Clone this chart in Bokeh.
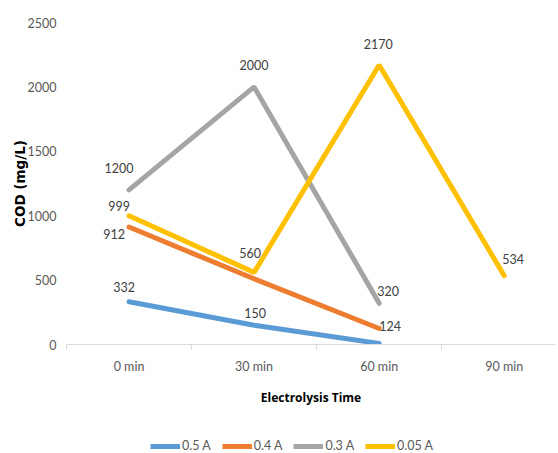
from bokeh.plotting import figure
from bokeh.layouts import column
from bokeh.models import (ColumnDataSource, LabelSet, Legend, LegendItem,
                          FixedTicker, Range1d)
from bokeh.core.properties import value
from bokeh.embed import file_html
from bokeh.resources import INLINE

# ---- data ----
categories = ["0 min", "30 min", "60 min", "90 min"]
series_names = ["0.5 A", "0.4 A", "0.3 A", "0.05 A"]
a05 = [332, 150, 8]
a04 = [912, 510, 124]
a03 = [1200, 2000, 320]
a005 = [999, 560, 2170, 534]
y_ticks = [0, 500, 1000, 1500, 2000, 2500]

# labels shown in chart (series index, point index)
shown = [(0, 0), (0, 1), (1, 0), (1, 2), (2, 0), (2, 1), (2, 2),
         (3, 0), (3, 1), (3, 2), (3, 3)]
# label offsets (style, screen px)
offsets = {(0, 0): (-5, 15), (0, 1): (1, 12), (1, 0): (-15, -7), (1, 2): (11, 3),
           (2, 0): (-10, 22), (2, 1): (0, 22), (2, 2): (9, 12),
           (3, 0): (-10, 10), (3, 1): (-4, 19), (3, 2): (-1, 21), (3, 3): (9, 17)}

colors = ["#5B9BD5", "#ED7D31", "#A5A5A5", "#FFC000"]
FONT = "Lato"
FS = "12.5px"

p = figure(frame_width=489, frame_height=322, output_backend="svg", toolbar_location=None,
           x_range=Range1d(-0.5, 3.41), y_range=Range1d(0, 2500),
           min_border_left=66, min_border_right=3, min_border_top=22,
           min_border_bottom=79)
p.outline_line_color = None
p.grid.visible = False
p.background_fill_color = "white"
p.border_fill_color = "white"

all_series = [a05, a04, a03, a005]
for vals, c in zip(all_series, colors):
    xs = list(range(len(vals)))
    p.line(xs, vals, line_color=c, line_width=5, line_cap="round")

# data labels
lx, ly, lt, xo, yo = [], [], [], [], []
for (si, pi) in shown:
    lx.append(pi)
    ly.append(all_series[si][pi])
    lt.append(str(all_series[si][pi]))
    xo.append(offsets[(si, pi)][0])
    yo.append(offsets[(si, pi)][1])
src = ColumnDataSource(dict(x=lx, y=ly, t=lt, xo=xo, yo=yo))
p.add_layout(LabelSet(x="x", y="y", text="t", source=src, x_offset="xo", y_offset="yo",
                      text_align="center", text_baseline="middle",
                      text_font=value(FONT), text_font_size=FS, text_color="#404040"))

# x axis
xa = p.xaxis[0]
xa.ticker = FixedTicker(ticks=list(range(len(categories))),
                        minor_ticks=[i - 0.5 for i in range(len(categories) + 1)])
xa.major_label_overrides = {i: c for i, c in enumerate(categories)}
xa.major_tick_line_color = None
xa.major_tick_out = 0
xa.major_tick_in = 0
xa.minor_tick_in = 0
xa.minor_tick_out = 5
xa.minor_tick_line_color = "#D9D9D9"
xa.axis_line_color = "#D9D9D9"
xa.major_label_text_font = FONT
xa.major_label_text_font_size = FS
xa.major_label_text_color = "#595959"
xa.major_label_standoff = 9
xa.axis_label = "Electrolysis Time"
xa.axis_label_text_font = "Open Sans"
xa.axis_label_text_font_style = "bold"
xa.axis_label_text_font_size = "12px"
xa.axis_label_text_color = "#000000"
xa.axis_label_standoff = 12

# y axis
ya = p.yaxis[0]
ya.ticker = FixedTicker(ticks=y_ticks)
ya.axis_line_color = None
ya.major_tick_line_color = None
ya.major_tick_out = 0
ya.major_tick_in = 0
ya.minor_tick_line_color = None
ya.minor_tick_out = 0
ya.minor_tick_in = 0
ya.major_label_text_font = FONT
ya.major_label_text_font_size = FS
ya.major_label_text_color = "#595959"
ya.major_label_standoff = 10
ya.axis_label = "COD (mg/L)"
ya.axis_label_text_font = "DejaVu Sans"
ya.axis_label_text_font_style = "bold"
ya.axis_label_text_font_size = "13.5px"
ya.axis_label_text_color = "#000000"
ya.axis_label_standoff = -3

# legend strip below the chart
q = figure(frame_width=558, frame_height=20, output_backend="svg", toolbar_location=None,
           x_axis_type=None, y_axis_type=None, x_range=Range1d(0, 1), y_range=Range1d(0, 1),
           min_border_left=0, min_border_right=0, min_border_top=10, min_border_bottom=0)
q.outline_line_color = None
q.grid.visible = False
q.border_fill_color = "white"
q.background_fill_color = "white"
# legend-only renderers placed outside the visible range
leg_renderers = [q.line([-5, -4], [-5, -4], line_color=c, line_width=5) for c in colors]

legend = Legend(items=[LegendItem(label=n, renderers=[r]) for n, r in zip(series_names, leg_renderers)],
                orientation="horizontal", location=(150, 0),
                label_text_font=FONT, label_text_font_size=FS,
                label_text_color="#595959", glyph_width=30, glyph_height=12,
                spacing=11, label_standoff=2, border_line_color=None,
                background_fill_alpha=0, margin=0, padding=2)
q.add_layout(legend, "center")

layout = column(p, q, spacing=0)
open("out.html", "w").write(file_html(layout, INLINE))
